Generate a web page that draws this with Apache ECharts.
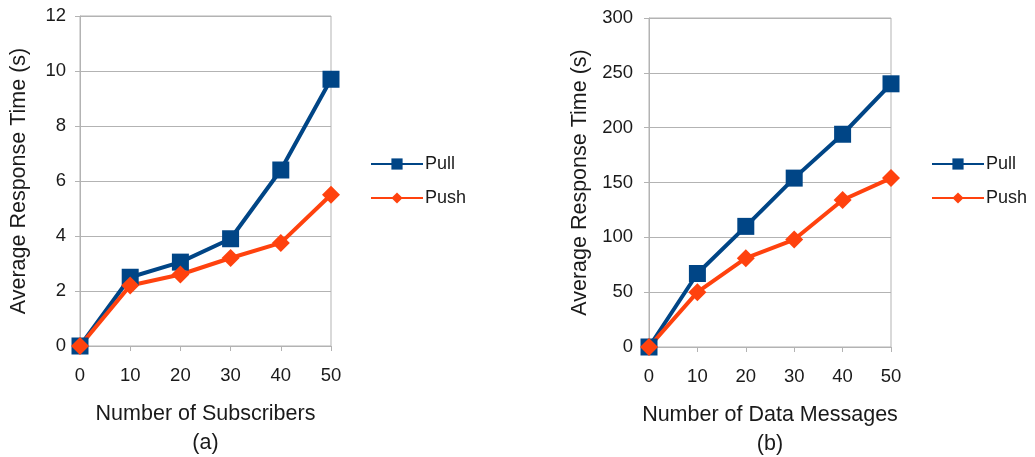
<!DOCTYPE html>
<html><head><meta charset="utf-8">
<script src="https://cdn.jsdelivr.net/npm/echarts@6/dist/echarts.min.js"></script>
<style>html,body{margin:0;padding:0;background:#fff}#c{width:1035px;height:457px}</style>
</head><body><div id="c"></div>
<script>
const xValues = [0, 10, 20, 30, 40, 50];
const pullA = [0, 2.5, 3.05, 3.9, 6.4, 9.7];
const pushA = [0, 2.2, 2.6, 3.2, 3.75, 5.5];
const pullB = [0, 67, 110, 154, 194, 240];
const pushB = [0, 50, 81, 98, 134, 154];
const seriesNames = ['Pull', 'Push'];
const yTitle = 'Average Response Time (s)';
const xTitleA = 'Number of Subscribers';
const xTitleB = 'Number of Data Messages';
const subA = '(a)';
const subB = '(b)';

const pair = (ys) => xValues.map((x, i) => [x, ys[i]]);
const FONT = 'Liberation Sans, Arial, sans-serif';
const txt = '#1a1a1a';
const gridCol = '#b3b3b3';
const BLUE = '#004586', ORANGE = '#ff420e';

function xAxis(idx, name) {
  return {
    type: 'value', gridIndex: idx, min: 0, max: 50, interval: 10,
    name: name, nameLocation: 'middle', nameGap: 54,
    nameTextStyle: { fontFamily: FONT, fontSize: 21.5, color: txt, lineHeight: 29 },
    axisLine: { lineStyle: { color: gridCol, width: 1 } },
    axisTick: { show: true, length: 5, lineStyle: { color: gridCol } },
    axisLabel: { fontFamily: FONT, fontSize: 18.5, color: txt, margin: 20 },
    splitLine: { show: false }
  };
}
function yAxis(idx, max, interval, margin) {
  return {
    type: 'value', gridIndex: idx, min: 0, max: max, interval: interval,
    name: yTitle, nameLocation: 'middle', nameGap: idx === 0 ? 50 : 58,
    nameTextStyle: { fontFamily: FONT, fontSize: 21.5, color: txt },
    axisLine: { show: true, lineStyle: { color: gridCol, width: 1 } },
    axisTick: { show: true, length: 5, lineStyle: { color: gridCol } },
    axisLabel: { fontFamily: FONT, fontSize: 18.5, color: txt, margin: margin },
    splitLine: { show: true, lineStyle: { color: gridCol, width: 1 } }
  };
}
function line(name, data, xi, color, symbol, size) {
  return {
    name: name, type: 'line', xAxisIndex: xi, yAxisIndex: xi, data: data,
    symbol: symbol, symbolSize: size, showSymbol: true,
    lineStyle: { color: color, width: 4 },
    itemStyle: { color: color },
    animation: false
  };
}
function legend(left) {
  return {
    data: seriesNames.slice(),
    orient: 'vertical', left: left, top: 150, itemWidth: 52, itemHeight: 14, itemGap: 16,
    textStyle: { fontFamily: FONT, fontSize: 18, color: txt, padding: [0, 0, 0, -3] }
  };
}

const chart = echarts.init(document.getElementById('c'), null, { renderer: 'canvas' });
chart.setOption({
  backgroundColor: '#fff',
  animation: false,
  grid: [
    { left: 80, top: 16, width: 251, height: 330, show: true, borderColor: gridCol, borderWidth: 1, containLabel: false, outerBoundsMode: 'none' },
    { left: 649, top: 18, width: 242, height: 329, show: true, borderColor: gridCol, borderWidth: 1, containLabel: false, outerBoundsMode: 'none' }
  ],
  xAxis: [xAxis(0, xTitleA + '\n' + subA), xAxis(1, xTitleB + '\n' + subB)],
  yAxis: [yAxis(0, 12, 2, 14), yAxis(1, 300, 50, 16)],
  legend: [legend(365), legend(926)],
  series: [
    line(seriesNames[0], pair(pullA), 0, BLUE, 'rect', 17),
    line(seriesNames[1], pair(pushA), 0, ORANGE, 'diamond', 18),
    line(seriesNames[0], pair(pullB), 1, BLUE, 'rect', 17),
    line(seriesNames[1], pair(pushB), 1, ORANGE, 'diamond', 18)
  ]
});
</script></body></html>
